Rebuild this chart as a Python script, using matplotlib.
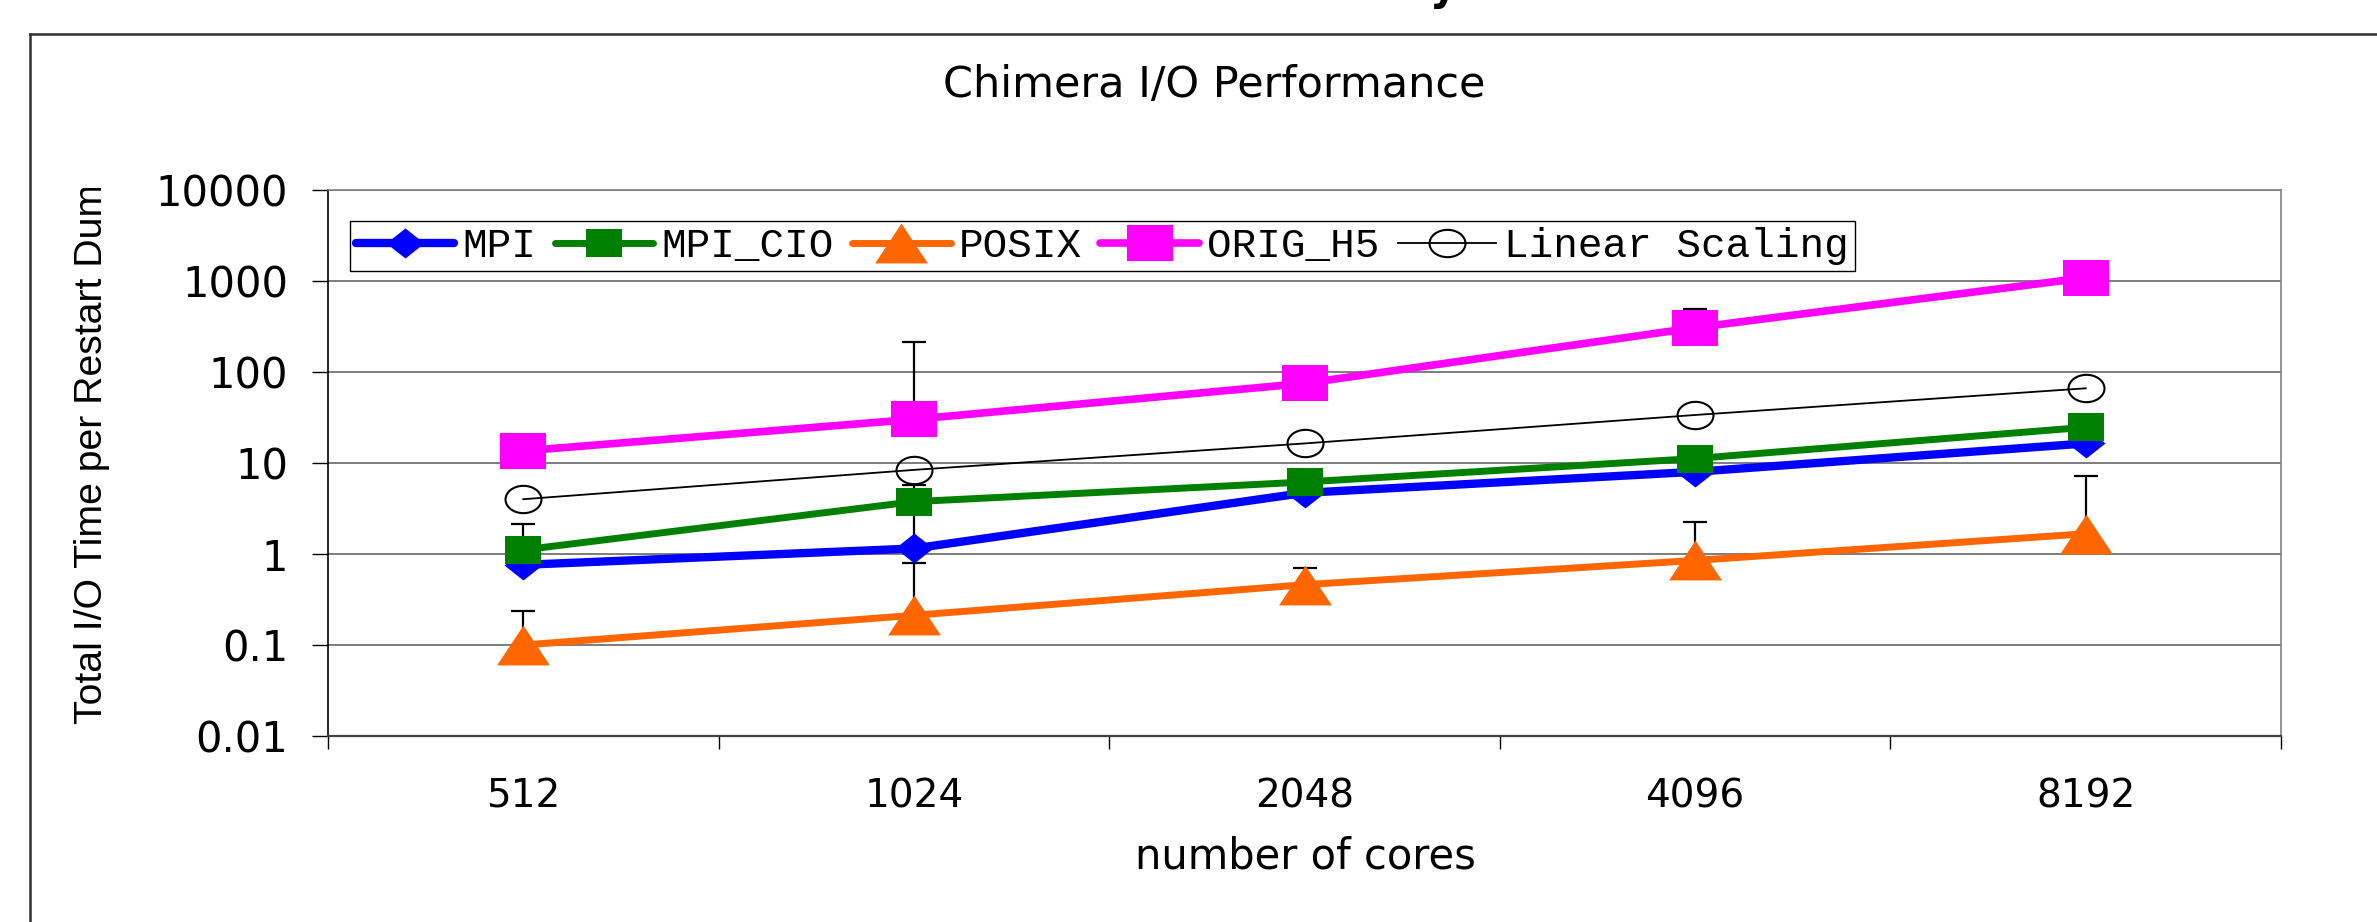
import numpy as np
import matplotlib
matplotlib.use("Agg")
import matplotlib.pyplot as plt
from matplotlib.path import Path
from matplotlib.lines import Line2D
from matplotlib.ticker import FixedLocator, FixedFormatter, NullFormatter, NullLocator
from matplotlib.transforms import Bbox, TransformedBbox

# ---- data ----
cores = ["512", "1024", "2048", "4096", "8192"]
mpi = [0.76, 1.15, 4.7, 8.0, 16.4]
mpi_cio = [1.11, 3.76, 6.18, 11.2, 24.7]
posix = [0.10, 0.212, 0.46, 0.85, 1.67]
orig_h5 = [13.6, 30.2, 75.0, 307.0, 1088.0]
linear = [4.0, 8.4, 16.4, 33.7, 66.2]

# top of the (plus only) error bars, nan = no bar
mpi_top = [np.nan, 5.73, np.nan, np.nan, np.nan]
mpi_cio_top = [2.12, np.nan, np.nan, np.nan, np.nan]
posix_top = [0.237, 0.79, 0.71, 2.26, 7.2]
orig_h5_top = [np.nan, 215.0, np.nan, 489.0, np.nan]

ytick_values = [0.01, 0.1, 1, 10, 100, 1000, 10000]
ytick_labels = ["0.01", "0.1", "1", "10", "100", "1000", "10000"]

W, H = 2377, 922


def fx(px):
    return px / W


def fy(py):
    return 1 - py / H


# the source chart is stretched sideways, so markers are wider than tall
def box(r):
    return Path([(-1, -r), (1, -r), (1, r), (-1, r), (-1, -r)], closed=True)


def diamond(r):
    return Path([(0, -r), (1, 0), (0, r), (-1, 0), (0, -r)], closed=True)


def triangle(r):
    return Path([(-1, -r), (1, -r), (0, r), (-1, -r)], closed=True)


def ellipse(r):
    c = Path.unit_circle()
    return Path(c.vertices * np.array([1, r]), c.codes)


fig = plt.figure(figsize=(W / 100, H / 100), dpi=100)
ax = fig.add_axes([fx(328), fy(736), fx(2281) - fx(328), fy(190) - fy(736)])

x = np.arange(len(cores))

series = [
    ("MPI", mpi, mpi_top, "#0000FF", 6.0, diamond(0.79), 27.4),
    ("MPI_CIO", mpi_cio, mpi_cio_top, "#008000", 5.0, box(0.74), 26.6),
    ("POSIX", posix, posix_top, "#FF6600", 5.0, triangle(0.755), 38.0),
    ("ORIG_H5", orig_h5, orig_h5_top, "#FF00FF", 5.5, box(0.76), 33.8),
]

# error bars first, under everything
for name, vals, top, col, lw, mk, ms in series:
    v = np.array(vals)
    t = np.array(top)
    m = ~np.isnan(t)
    if m.any():
        ax.errorbar(x[m], v[m], yerr=[np.zeros(m.sum()), t[m] - v[m]], fmt="none",
                    ecolor="black", elinewidth=1.6, capsize=8.3, capthick=1.6, zorder=2)

for name, vals, top, col, lw, mk, ms in series:
    ax.plot(x, vals, color=col, lw=lw, marker=mk, ms=ms, mew=0, label=name,
            solid_capstyle="round", zorder=3)

ax.plot(x, linear, color="black", lw=1.3, marker=ellipse(0.76), ms=25.9,
        mfc="none", mec="black", mew=1.5, label="Linear Scaling", zorder=3)

ax.set_yscale("log")
ax.set_ylim(0.01, 10000)
ax.yaxis.set_major_locator(FixedLocator(ytick_values))
ax.yaxis.set_major_formatter(FixedFormatter(ytick_labels))
ax.yaxis.set_minor_locator(NullLocator())
ax.tick_params(axis="y", which="major", direction="out", length=11.5, width=1,
               pad=17, labelsize=30, colors="black")
for t in ax.get_yticklabels():
    t.set_family("DejaVu Sans")

ax.set_xlim(-0.5, len(cores) - 0.5)
ax.xaxis.set_major_locator(FixedLocator(np.arange(-0.5, len(cores)) + 0.0))
ax.xaxis.set_major_formatter(NullFormatter())
ax.xaxis.set_minor_locator(FixedLocator(x))
ax.xaxis.set_minor_formatter(FixedFormatter(cores))
ax.tick_params(axis="x", which="major", direction="out", length=9.5, width=1, colors="black")
ax.tick_params(axis="x", which="minor", length=0, pad=30, labelsize=28)

ax.grid(axis="y", which="major", color="#5a5a5a", lw=1.1)
ax.set_axisbelow(True)
ax.spines["left"].set_color("black")
ax.spines["left"].set_linewidth(1.2)
ax.spines["bottom"].set_color("#404040")
ax.spines["bottom"].set_linewidth(1.6)
for s in ("top", "right"):
    ax.spines[s].set_color("#808080")
    ax.spines[s].set_linewidth(1.2)

leg = ax.legend(loc="upper left", bbox_to_anchor=(fx(350), fy(221)), bbox_transform=fig.transFigure,
                ncol=5, borderaxespad=0, fancybox=False, framealpha=1, edgecolor="black",
                prop={"family": "Liberation Mono", "size": 29.5}, handlelength=2.4,
                handletextpad=0.2, columnspacing=0.45, borderpad=0.15)
leg.get_frame().set_linewidth(1.0)

# titles and labels
fig.text(fx(1214), fy(97), "Chimera I/O Performance", ha="center", va="baseline",
         fontsize=31, family="DejaVu Sans")
fig.text(fx(1305), fy(868), "number of cores", ha="center", va="baseline",
         fontsize=30, family="DejaVu Sans")
yl = fig.text(fx(92), fy(724), "Total I/O Time per Restart Dump", rotation=90,
              ha="center", va="bottom", fontsize=28.3, family="Liberation Sans")
yl.set_clip_box(TransformedBbox(Bbox.from_extents(0, 0, 1, fy(188)), fig.transFigure))
yl.set_clip_on(True)

# bits of the slide around the chart
fig.text(fx(1443), 1.0, "y", ha="center", va="baseline", fontsize=30,
         family="DejaVu Sans", fontweight="bold")
fig.add_artist(Line2D([fx(30), 1], [fy(34), fy(34)], color="#303030", lw=1.8))
fig.add_artist(Line2D([fx(30), fx(30)], [fy(34), 0], color="#303030", lw=1.8))

fig.savefig("out.png", dpi=100, facecolor="white")
